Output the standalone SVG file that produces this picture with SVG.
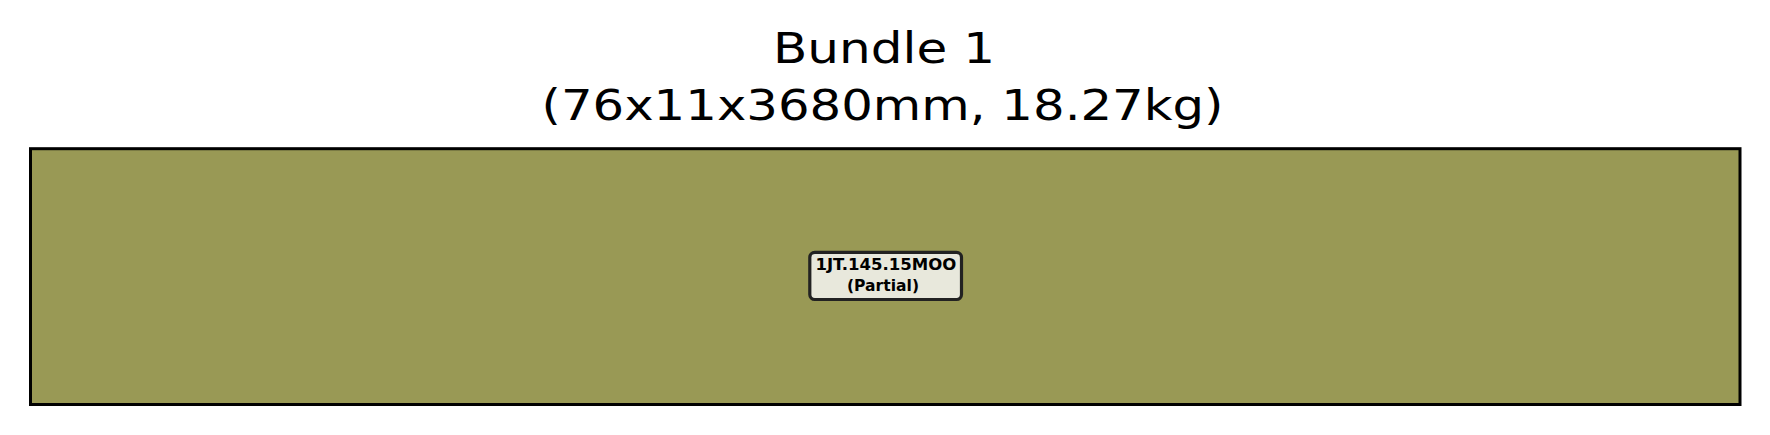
<svg xmlns="http://www.w3.org/2000/svg" width="1770" height="435" viewBox="0 0 1770 435">
<style>
.title{font-family:"DejaVu Sans",sans-serif;font-size:43.5px;fill:#000;text-anchor:middle}
.lbl{font-family:"DejaVu Sans",sans-serif;font-size:15.5px;font-weight:bold;fill:#000;text-anchor:middle}
.bundle{fill:#999955;stroke:#000;stroke-width:3}
.tag{fill:#e8e8dc;stroke:#222;stroke-width:3.2}
</style>
<rect width="1770" height="435" fill="#fff"/>
<g id="title">
<text class="title" x="884" y="63.3" textLength="222" lengthAdjust="spacingAndGlyphs">Bundle 1</text>
<text class="title" x="882.5" y="120" textLength="682" lengthAdjust="spacingAndGlyphs">(76x11x3680mm, 18.27kg)</text>
</g>
<g id="bundle">
<rect class="bundle" x="30.5" y="148.7" width="1709.5" height="255.8"/>
</g>
<g id="piece">
<rect class="tag" x="809.8" y="252.3" width="151.7" height="47.2" rx="5" ry="5"/>
<text class="lbl" x="885.9" y="270.3" textLength="141" lengthAdjust="spacingAndGlyphs">1JT.145.15MOO</text>
<text class="lbl" x="883" y="290.5" textLength="72" lengthAdjust="spacingAndGlyphs">(Partial)</text>
</g>
<g id="connectors"/>
</svg>
